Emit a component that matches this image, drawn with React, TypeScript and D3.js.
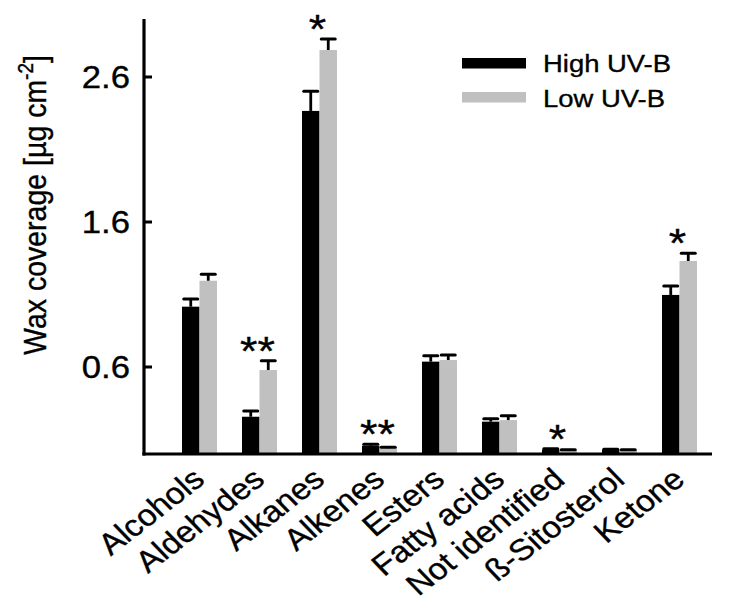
import React from "react";
import * as d3 from "d3";

const categories = ["Alcohols", "Aldehydes", "Alkanes", "Alkenes", "Esters", "Fatty acids", "Not identified", "ß-Sitosterol", "Ketone"];
const highUV = [1.016, 0.257, 2.366, 0.057, 0.637, 0.223, 0.030, 0.028, 1.097];
const highErr = [0.053, 0.040, 0.135, 0.010, 0.040, 0.020, 0.006, 0.005, 0.062];
const lowUV = [1.195, 0.579, 2.786, 0.040, 0.648, 0.234, 0.023, 0.025, 1.331];
const lowErr = [0.045, 0.064, 0.076, 0.006, 0.034, 0.030, 0.006, 0.005, 0.053];
const significance = ["", "**", "*", "**", "", "", "*", "", "*"];
const yTicks = [0.6, 1.6, 2.6];
const seriesNames = ["High UV-B", "Low UV-B"];

const W = 735;
const H = 615;
const SX = 1.12; // horizontal stretch of the glyphs
const FONT = "Liberation Sans, Arial, Helvetica, sans-serif";
const BLACK = "#000000";
const GRAY = "#c0c0c0";
const TXT = { fill: BLACK, stroke: BLACK, strokeWidth: 0.35 };

export default function App() {
  const y = d3.scaleLinear().domain([0, 3]).range([454, 19]);
  const x = d3.scaleBand<string>().domain(categories).range([169.5, 709.5]).padding(0);
  const axisX = 144;
  const axisRight = 712;
  const barW = 17.5;
  const cap = 14;

  const center = (c: string) => (x(c) as number) + x.bandwidth() / 2;

  return (
    <svg width={W} height={H} style={{ position: "absolute", left: 0, top: 0, background: "#fff" }} fontFamily={FONT}>
      <rect x={0} y={0} width={W} height={H} fill="#fff" />
      {/* bars */}
      {categories.map((c, i) => {
        const cx = center(c);
        const bars = [
          { v: highUV[i], e: highErr[i], x0: cx - barW, fill: BLACK },
          { v: lowUV[i], e: lowErr[i], x0: cx, fill: GRAY },
        ];
        const top = Math.min(y(highUV[i] + highErr[i]), y(lowUV[i] + lowErr[i]));
        return (
          <g key={c}>
            {bars.map((b, j) => (
              <g key={j}>
                <rect x={b.x0} y={y(b.v)} width={barW} height={y(0) - y(b.v)} fill={b.fill} />
                <line x1={b.x0 + barW / 2} x2={b.x0 + barW / 2} y1={y(b.v)} y2={y(b.v + b.e)} stroke={BLACK} strokeWidth={2.8} />
                <line x1={b.x0 + barW / 2 - cap / 2} x2={b.x0 + barW / 2 + cap / 2} y1={y(b.v + b.e)} y2={y(b.v + b.e)} stroke={BLACK} strokeWidth={3} strokeLinecap="round" />
              </g>
            ))}
            {significance[i] && (
              <text
                transform={`translate(${cx - 2},${top + 4}) scale(${SX},1)`}
                textAnchor="middle"
                fontSize={40}
                {...TXT}
              >
                {significance[i]}
              </text>
            )}
          </g>
        );
      })}
      {/* axes */}
      <line x1={axisX} x2={axisX} y1={y(3)} y2={y(0) + 1.5} stroke={BLACK} strokeWidth={3.2} />
      <line x1={axisX - 1.6} x2={axisRight} y1={y(0)} y2={y(0)} stroke={BLACK} strokeWidth={3.2} />
      {yTicks.map((t) => (
        <g key={t}>
          <line x1={axisX} x2={axisX + 8} y1={y(t)} y2={y(t)} stroke={BLACK} strokeWidth={3} />
          <text transform={`translate(${axisX - 14},${y(t)}) scale(${SX},1)`} textAnchor="end" dy="0.36em" fontSize={31} {...TXT}>
            {d3.format(".1f")(t)}
          </text>
        </g>
      ))}
      {/* category labels */}
      {categories.map((c) => (
        <text
          key={c}
          transform={`translate(${center(c) + 7},${482}) scale(${SX},1) rotate(-41)`}
          textAnchor="end"
          fontSize={30}
          {...TXT}
        >
          {c}
        </text>
      ))}
      {/* y title */}
      <text transform={`translate(46,205) scale(${SX},1) rotate(-90)`} textAnchor="middle" fontSize={28.5} {...TXT}>
        Wax coverage [µg cm
        <tspan fontSize={19} dy={-12}>-2</tspan>
        <tspan dy={12}>]</tspan>
      </text>
      {/* legend */}
      {seriesNames.map((s, i) => (
        <g key={s}>
          <rect x={462} y={58 + i * 34} width={64} height={10.5} fill={i === 0 ? BLACK : GRAY} />
          <text transform={`translate(543,${72 + i * 35}) scale(${SX},1)`} fontSize={24.5} {...TXT}>
            {s}
          </text>
        </g>
      ))}
    </svg>
  );
}
